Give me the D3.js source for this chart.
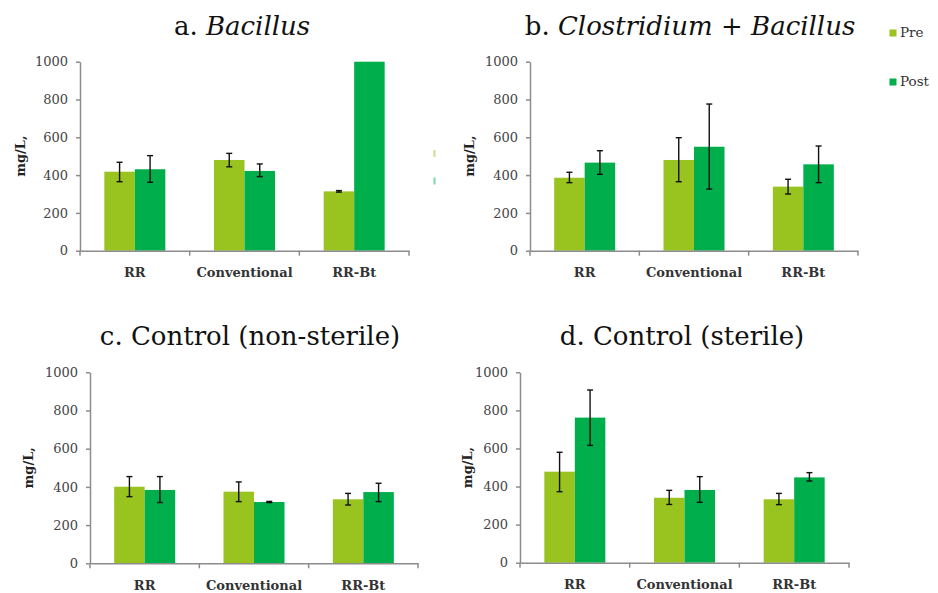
<!doctype html>
<html lang="en">
<head>
<meta charset="utf-8">
<style>
  body, html { margin:0; padding:0; background:white; overflow:hidden; }
  svg { position:absolute; top:0; left:0; }
  text { font-family: "DejaVu Serif", "Liberation Serif", serif; }
</style>
</head>
<body>
<div id="chart"></div>
<script src="https://d3js.org/d3.v7.min.js"></script>
<script>

const categories = ["RR", "Conventional", "RR-Bt"];
const series = ["Pre", "Post"];
const colors = ["#99c31f", "#00af4c"];
const yTicks = [0, 200, 400, 600, 800, 1000];

// mean values per category, [Pre, Post]
const bacillus      = [[418, 431], [480, 422], [314, 1000]];
const clostBacillus = [[386, 466], [480, 550], [339, 457]];
const ctrlNonSter   = [[401, 384], [375, 321], [335, 373]];
const ctrlSterile   = [[478, 762], [341, 382], [333, 448]];

// error bar [low, high] per category, [Pre, Post]
const bacillusErr      = [[[365, 468], [362, 503]], [[444, 515], [392, 459]], [[310, 318], null]];
const clostBacillusErr = [[[360, 415], [404, 529]], [[365, 598], [326, 776]], [[300, 378], [360, 554]]];
const ctrlNonSterErr   = [[[349, 454], [318, 454]], [[323, 426], [318, 324]], [[305, 366], [323, 419]]];
const ctrlSterileErr   = [[[373, 580], [616, 907]], [[306, 380], [317, 452]], [[305, 364], [429, 473]]];

const serif = "'DejaVu Serif', 'Liberation Serif', serif";

const panels = [
  {pre: "a. ", ital: "Bacillus", post: "", vals: bacillus, err: bacillusErr,
   x0: 80, x1: 409, yT: 61.7, yB: 250.7, tx: 242, ty: 35, lx: 20},
  {pre: "b. ", ital: "Clostridium", post: " + ", ital2: "Bacillus", vals: clostBacillus, err: clostBacillusErr,
   x0: 530, x1: 858, yT: 61.7, yB: 250.7, tx: 690, ty: 35, lx: 469},
  {pre: "c. Control (non-sterile)", vals: ctrlNonSter, err: ctrlNonSterErr,
   x0: 90, x1: 418, yT: 372.3, yB: 563.3, tx: 250, ty: 345, lx: 28},
  {pre: "d. Control (sterile)", vals: ctrlSterile, err: ctrlSterileErr,
   x0: 520, x1: 849, yT: 372.3, yB: 562.7, tx: 682, ty: 345, lx: 467}
];

const svg = d3.select("#chart").append("svg")
  .attr("width", 938).attr("height", 593);

panels.forEach((p) => {
  const g = svg.append("g");
  const x = d3.scaleBand().domain(categories).range([p.x0, p.x1]);
  const y = d3.scaleLinear().domain([0, 1000]).range([p.yB, p.yT]);
  const bw = 30.5;
  const xs = d3.scaleBand().domain(series).range([-bw, bw]);

  // title
  const t = g.append("text").attr("x", p.tx).attr("y", p.ty)
    .attr("text-anchor", "middle").style("font-family", serif)
    .style("font-size", "26px").style("fill", "#111");
  t.append("tspan").text(p.pre);
  if (p.ital) t.append("tspan").style("font-style", "italic").text(p.ital);
  if (p.post) t.append("tspan").text(p.post);
  if (p.ital2) t.append("tspan").style("font-style", "italic").text(p.ital2);

  // bars
  const cg = g.selectAll("g.cat").data(categories).enter().append("g")
    .attr("transform", (d) => `translate(${x(d) + x.bandwidth() / 2},0)`);

  cg.selectAll("rect").data((d, i) => p.vals[i].map((v, j) => ({v: v, s: series[j], c: colors[j]})))
    .enter().append("rect")
    .attr("x", (d) => xs(d.s))
    .attr("width", xs.bandwidth())
    .attr("y", (d) => y(d.v))
    .attr("height", (d) => y(0) - y(d.v))
    .style("fill", (d) => d.c);

  // error bars
  cg.each(function (d, i) {
    p.err[i].forEach((e, j) => {
      if (!e) return;
      const cx = xs(series[j]) + xs.bandwidth() / 2;
      const eg = d3.select(this).append("g").style("stroke", "#111").style("stroke-width", 1.4);
      eg.append("line").attr("x1", cx).attr("x2", cx).attr("y1", y(e[0])).attr("y2", y(e[1]));
      eg.append("line").attr("x1", cx - 3).attr("x2", cx + 3).attr("y1", y(e[0])).attr("y2", y(e[0]));
      eg.append("line").attr("x1", cx - 3).attr("x2", cx + 3).attr("y1", y(e[1])).attr("y2", y(e[1]));
    });
  });

  // y axis
  const ya = g.append("g").attr("transform", `translate(${p.x0},0)`)
    .call(d3.axisLeft(y).tickValues(yTicks).tickFormat(d3.format("d"))
      .tickSize(4).tickPadding(8).tickSizeOuter(0));
  ya.select(".domain").style("stroke", "#8c8c8c").style("stroke-width", 1.5);
  ya.selectAll(".tick line").style("stroke", "#8c8c8c").style("stroke-width", 1.5);
  ya.selectAll(".tick text").style("font-family", serif).style("font-size", "13px").style("fill", "#444");

  // x axis
  const xa = g.append("g").attr("transform", `translate(0,${p.yB})`)
    .call(d3.axisBottom(x).tickSize(0).tickPadding(17).tickSizeOuter(0));
  xa.select(".domain").style("stroke", "#8c8c8c").style("stroke-width", 1.5);
  xa.selectAll(".tick text").style("font-family", serif).style("font-size", "13px")
    .style("font-weight", "bold").style("fill", "#333");
  const bounds = categories.map((c) => x(c)).concat([p.x1]);
  xa.selectAll("line.sep").data(bounds).enter().append("line").attr("class", "sep")
    .attr("x1", (d) => d).attr("x2", (d) => d).attr("y1", 0).attr("y2", 5)
    .style("stroke", "#8c8c8c").style("stroke-width", 1.5);

  // y label
  g.append("text").attr("transform", `translate(${p.lx},${(p.yT + p.yB) / 2}) rotate(-90)`)
    .attr("text-anchor", "middle").attr("dy", "0.35em").style("font-family", serif)
    .style("font-size", "13px").style("font-weight", "bold").style("fill", "#222")
    .text("mg/L,");
});

// legend
const lg = svg.append("g");
series.forEach((s, i) => {
  lg.append("rect").attr("x", 889.5).attr("y", 29.5 + i * 49).attr("width", 7).attr("height", 7)
    .style("fill", colors[i]);
  lg.append("text").attr("x", 900).attr("y", 37 + i * 49).style("font-family", serif)
    .style("font-size", "13.5px").style("fill", "#333").text(s);
});
// clipped legend remnants of panel a
series.forEach((s, i) => {
  lg.append("rect").attr("x", 433.5).attr("y", 150 + i * 27.5).attr("width", 2).attr("height", 7)
    .style("fill", colors[i]).style("opacity", 0.5);
});

</script>
</body>
</html>
